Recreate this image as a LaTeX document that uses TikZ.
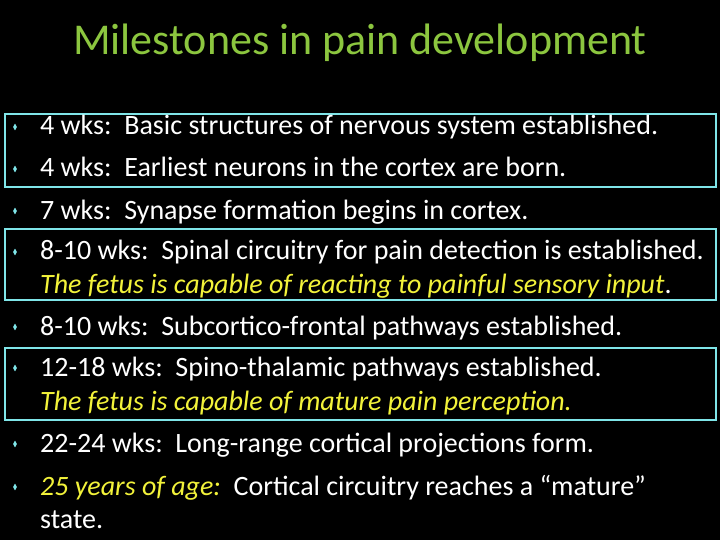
\documentclass[tikz,border=0pt]{standalone}
\usepackage{fontspec}
\setmainfont{Carlito}
\usetikzlibrary{shapes.geometric}
\definecolor{ttl}{HTML}{8CC63F}
\definecolor{cy}{HTML}{7FE5E8}
\definecolor{yl}{HTML}{F2F23A}
\tikzset{
 ln/.style={anchor=base west,inner sep=0pt,text=white,font=\fontsize{28}{32}\selectfont},
 bul/.style={diamond,fill=cy,inner sep=0pt,minimum width=4pt,minimum height=7pt},
 bx/.style={draw=cy,line width=2.5pt}
}
\begin{document}
\begin{tikzpicture}[x=1pt,y=-1pt]
\fill[black] (0,0) rectangle (720,540);
\useasboundingbox (0,0) rectangle (720,540);
\node[text=ttl,font=\fontsize{44}{48}\selectfont] (title) at (360,43) {Milestones in pain development};
\draw[bx] (5,114) rectangle (716,187);
\draw[bx] (5,229) rectangle (716,300);
\draw[bx] (5,348) rectangle (716,420);
\node[ln] (l1) at (40,135) {4 wks:\ \ Basic structures of nervous system established.};
\node[ln] (l2) at (40,177) {4 wks:\ \ Earliest neurons in the cortex are born.};
\node[ln] (l3) at (40,219) {7 wks:\ \ Synapse formation begins in cortex.};
\node[ln] (l4) at (40,259) {8-10 wks:\ \ Spinal circuitry for pain detection is established.};
\node[ln] (l4b) at (40,293) {\textcolor{yl}{\itshape The fetus is capable of reacting to painful sensory input}.};
\node[ln] (l5) at (40,335) {8-10 wks:\ \ Subcortico-frontal pathways established.};
\node[ln] (l6) at (40,376) {12-18 wks:\ \ Spino-thalamic pathways established.};
\node[ln] (l6b) at (40,410) {\textcolor{yl}{\itshape The fetus is capable of mature pain perception.}};
\node[ln] (l7) at (40,452) {22-24 wks:\ \ Long-range cortical projections form.};
\node[ln] (l8) at (40,495) {\textcolor{yl}{\itshape 25 years of age:}\ \ Cortical circuitry reaches a “mature”};
\node[ln] (l8b) at (40,528) {state.};
\foreach \y [count=\i] in {127,169,211,252,327,368,444,487}
  \node[bul] (b\i) at (15,\y) {};
\end{tikzpicture}
\end{document}
